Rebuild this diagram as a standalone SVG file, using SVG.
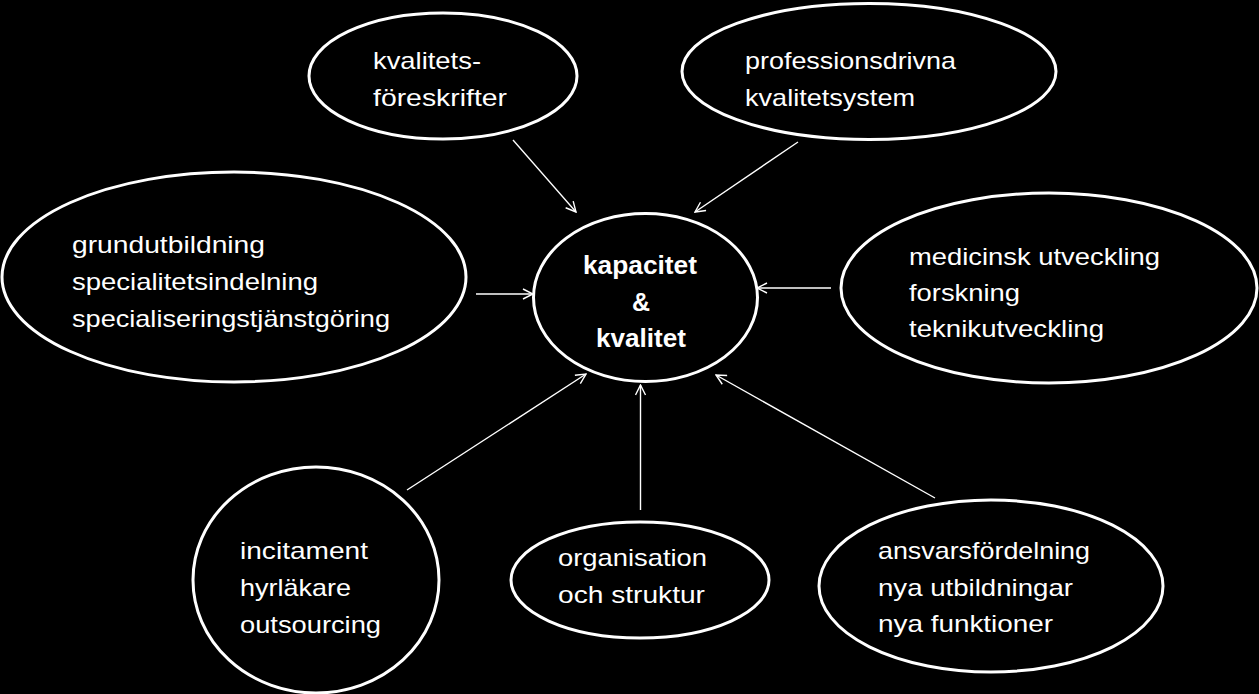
<svg xmlns="http://www.w3.org/2000/svg" width="1259" height="694" viewBox="0 0 1259 694">
<defs>
<style>
.bg{fill:#000}
.node ellipse{fill:#000;stroke:#fff;stroke-width:3}
.t{fill:#fff;font-family:"Liberation Sans","Open Sans",Arial,sans-serif;font-size:24px}
.b{fill:#fff;font-family:"Liberation Sans","Open Sans",Arial,sans-serif;font-size:25px;font-weight:bold}
.conn line{stroke:#fff;stroke-width:1.4;fill:none;marker-end:url(#ah)}
</style>
<marker id="ah" viewBox="0 0 12 12" refX="11" refY="6" markerWidth="12" markerHeight="12" markerUnits="userSpaceOnUse" orient="auto">
<path d="M1,1 L11,6 L1,11" fill="none" stroke="#fff" stroke-width="1.4"/>
</marker>
</defs>
<rect class="bg" x="0" y="0" width="1259" height="694"/>

<g id="connectors" class="conn">
<line x1="513" y1="140" x2="576" y2="212"/>
<line x1="798" y1="142" x2="695" y2="212"/>
<line x1="476" y1="294" x2="533" y2="294"/>
<line x1="831" y1="288" x2="757" y2="288"/>
<line x1="407" y1="490" x2="586" y2="374"/>
<line x1="640.5" y1="510" x2="640.5" y2="385"/>
<line x1="935" y1="498" x2="716" y2="375"/>
</g>

<g id="center" class="node">
<ellipse cx="645.5" cy="297.5" rx="112" ry="84"/>
<text class="b" x="640" y="274" text-anchor="middle" textLength="114" lengthAdjust="spacingAndGlyphs">kapacitet</text>
<text class="b" x="641" y="311" text-anchor="middle">&amp;</text>
<text class="b" x="641" y="347" text-anchor="middle" textLength="90" lengthAdjust="spacingAndGlyphs">kvalitet</text>
</g>

<g id="kvalitetsforeskrifter" class="node">
<ellipse cx="443" cy="76" rx="134" ry="63"/>
<text class="t" x="373" y="69" textLength="108" lengthAdjust="spacingAndGlyphs">kvalitets-</text>
<text class="t" x="373" y="106" textLength="134" lengthAdjust="spacingAndGlyphs">föreskrifter</text>
</g>

<g id="professionsdrivna" class="node">
<ellipse cx="869" cy="71.5" rx="187" ry="68"/>
<text class="t" x="745" y="69" textLength="211" lengthAdjust="spacingAndGlyphs">professionsdrivna</text>
<text class="t" x="745" y="106" textLength="170" lengthAdjust="spacingAndGlyphs">kvalitetsystem</text>
</g>

<g id="grundutbildning" class="node">
<ellipse cx="234" cy="277" rx="232" ry="105"/>
<text class="t" x="72" y="253" textLength="193" lengthAdjust="spacingAndGlyphs">grundutbildning</text>
<text class="t" x="72" y="290" textLength="246" lengthAdjust="spacingAndGlyphs">specialitetsindelning</text>
<text class="t" x="72" y="327" textLength="318" lengthAdjust="spacingAndGlyphs">specialiseringstjänstgöring</text>
</g>

<g id="medicinsk" class="node">
<ellipse cx="1049" cy="288" rx="208" ry="95"/>
<text class="t" x="909" y="265" textLength="251" lengthAdjust="spacingAndGlyphs">medicinsk utveckling</text>
<text class="t" x="909" y="301" textLength="111" lengthAdjust="spacingAndGlyphs">forskning</text>
<text class="t" x="909" y="337" textLength="195" lengthAdjust="spacingAndGlyphs">teknikutveckling</text>
</g>

<g id="incitament" class="node">
<ellipse cx="316" cy="580" rx="123" ry="113"/>
<text class="t" x="240" y="559" textLength="128" lengthAdjust="spacingAndGlyphs">incitament</text>
<text class="t" x="240" y="596" textLength="111" lengthAdjust="spacingAndGlyphs">hyrläkare</text>
<text class="t" x="240" y="633" textLength="141" lengthAdjust="spacingAndGlyphs">outsourcing</text>
</g>

<g id="organisation" class="node">
<ellipse cx="640" cy="580" rx="129" ry="58"/>
<text class="t" x="558" y="566" textLength="149" lengthAdjust="spacingAndGlyphs">organisation</text>
<text class="t" x="558" y="603" textLength="147" lengthAdjust="spacingAndGlyphs">och struktur</text>
</g>

<g id="ansvarsfordelning" class="node">
<ellipse cx="991" cy="586" rx="172" ry="86"/>
<text class="t" x="878" y="559" textLength="212" lengthAdjust="spacingAndGlyphs">ansvarsfördelning</text>
<text class="t" x="878" y="596" textLength="195" lengthAdjust="spacingAndGlyphs">nya utbildningar</text>
<text class="t" x="878" y="632" textLength="175" lengthAdjust="spacingAndGlyphs">nya funktioner</text>
</g>
</svg>
